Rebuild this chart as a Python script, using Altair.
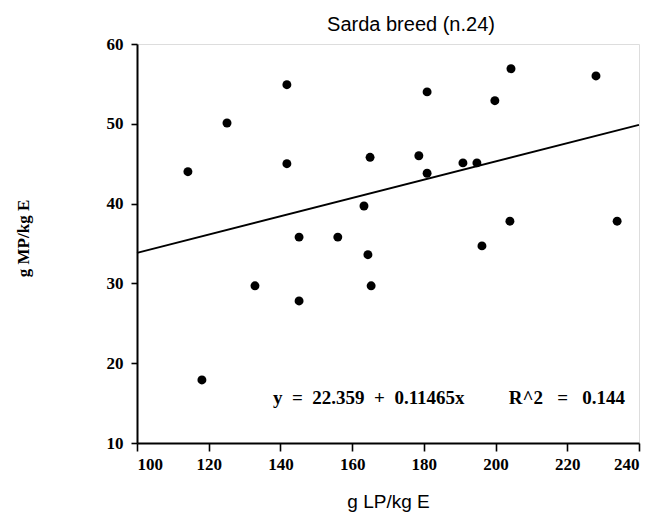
import altair as alt
import pandas as pd

# Data
lp = [114.2, 125.1, 141.8, 141.8, 165.0, 163.3, 204.3, 228.0, 180.9, 199.8, 178.6, 180.9,
      190.9, 194.8, 204.0, 233.9, 196.2, 145.2, 156.0, 164.4, 132.9, 145.2, 165.3, 118.1]
mp = [44.0, 50.1, 54.9, 45.0, 45.8, 39.7, 56.9, 56.0, 54.0, 52.9, 46.0, 43.8,
      45.1, 45.1, 37.8, 37.8, 34.7, 35.8, 35.8, 33.6, 29.7, 27.8, 29.7, 17.9]
intercept = 22.359
slope = 0.11465
r2 = 0.144
x_range = [100, 240]
title_text = "Sarda breed (n.24)"

pts = pd.DataFrame({"lp": lp, "mp": mp})
line_df = pd.DataFrame({"lp": x_range, "mp": [intercept + slope * v for v in x_range]})

xscale = alt.Scale(domain=[100, 240], nice=False, zero=False)
yscale = alt.Scale(domain=[10, 60], nice=False, zero=False)

lab_font = "Liberation Serif"
sp2 = "\u00a0\u00a0"
sp3 = "\u00a0\u00a0\u00a0"

xaxis = alt.Axis(
    values=list(range(100, 241, 10)),
    labelExpr="datum.value % 20 == 0 ? datum.label : ''",
    tickSize={"condition": {"test": "datum.value % 20 == 0", "value": 8}, "value": 4},
    grid=False, domainColor="black", domainWidth=2, tickColor="black", tickWidth=1.6,
    labelFont=lab_font, labelFontWeight="bold", labelFontSize=17, labelColor="black",
    labelPadding=5,
    title="g LP/kg E", titleFont="Liberation Sans", titleFontSize=19,
    titleFontWeight="normal", titleColor="black", titleY=64, titleBaseline="alphabetic",
)
yaxis = alt.Axis(
    values=list(range(10, 61, 5)),
    labelExpr="datum.value % 10 == 0 ? datum.label : ''",
    tickSize={"condition": {"test": "datum.value % 10 == 0", "value": 6}, "value": 3},
    grid=False, domainColor="black", domainWidth=2, tickColor="black", tickWidth=1.6,
    labelFont=lab_font, labelFontWeight="bold", labelFontSize=17, labelColor="black",
    labelPadding=8,
    title="g MP/kg E", titleFont=lab_font, titleFontSize=17, titleFontWeight="bold",
    titleColor="black", titleAngle=-90, titleX=-114, titleY=194, titleBaseline="middle",
    titleAlign="center",
)

points = alt.Chart(pts).mark_circle(size=80, color="black", opacity=1).encode(
    x=alt.X("lp:Q", scale=xscale, axis=xaxis),
    y=alt.Y("mp:Q", scale=yscale, axis=yaxis),
)
line = alt.Chart(line_df).mark_line(color="black", strokeWidth=1.8).encode(
    x=alt.X("lp:Q", scale=xscale),
    y=alt.Y("mp:Q", scale=yscale),
)

txt = dict(baseline="middle", font=lab_font, fontWeight="bold", fontSize=19, color="black")
eq1 = alt.Chart(pd.DataFrame({"t": [f"y{sp2}={sp2}{intercept}{sp2}+{sp2}{slope}x"]})).mark_text(
    align="left", **txt
).encode(x=alt.value(136), y=alt.value(354), text="t:N")
eq2 = alt.Chart(pd.DataFrame({"t": [f"R^2{sp3}={sp3}{r2}"]})).mark_text(
    align="right", **txt
).encode(x=alt.value(488), y=alt.value(354), text="t:N")

title = alt.Chart(pd.DataFrame({"t": [title_text]})).mark_text(
    align="center", baseline="alphabetic", font="Liberation Sans", fontSize=20,
    fontWeight="normal", color="black"
).encode(x=alt.value(274), y=alt.value(-13), text="t:N")

chart = alt.layer(line, points, eq1, eq2, title).properties(
    width=502, height=399,
    padding={"left": 137, "top": 44, "right": 18, "bottom": 69},
    autosize=alt.AutoSizeParams(type="none"),
).configure_view(stroke=None).configure(background="white")

chart.save("out.html", embed_options={"renderer": "svg", "actions": False})
